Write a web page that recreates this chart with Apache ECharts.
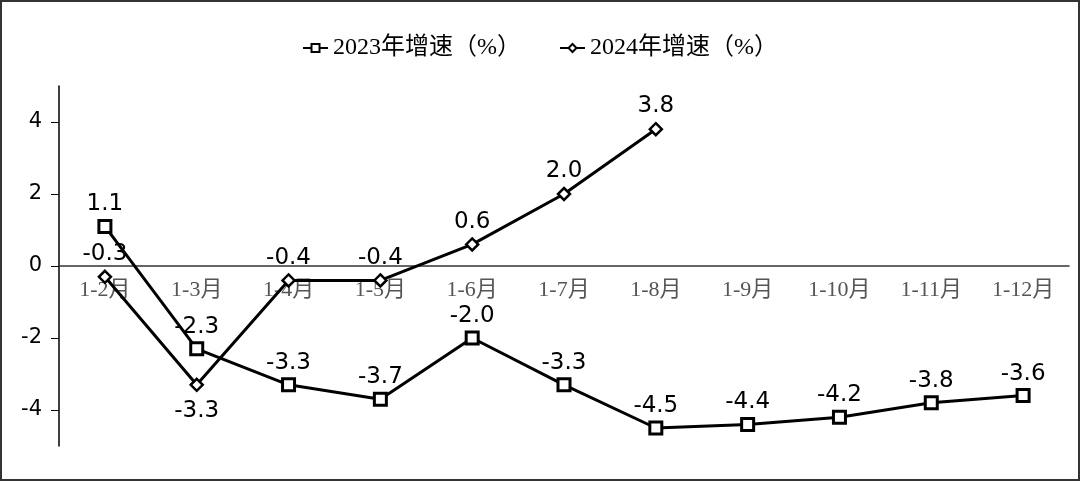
<!DOCTYPE html>
<html><head><meta charset="utf-8">
<script src="https://cdn.jsdelivr.net/npm/echarts@6/dist/echarts.min.js"></script>
<style>html,body{margin:0;padding:0;background:#fff}#c{width:1080px;height:481px}</style>
</head><body><div id="c"></div>
<script>
const categories = ['1-2月','1-3月','1-4月','1-5月','1-6月','1-7月','1-8月','1-9月','1-10月','1-11月','1-12月'];
const growth2023 = [1.1, -2.3, -3.3, -3.7, -2.0, -3.3, -4.5, -4.4, -4.2, -3.8, -3.6];
const growth2024 = [-0.3, -3.3, -0.4, -0.4, 0.6, 2.0, 3.8];
const yTicks = [-4, -2, 0, 2, 4];
const below2024 = [1];

const serif = '"Liberation Serif","Noto Sans CJK SC",serif';
const sans = '"DejaVu Sans",Verdana,sans-serif';
const chart = echarts.init(document.getElementById('c'));
chart.setOption({
  animation: false,
  graphic: [{type:'rect', shape:{x:1,y:1,width:1078,height:479}, style:{fill:'none', stroke:'#333', lineWidth:2}, silent:true, z:100}],
  legend: {
    top: 31, left: 'center', itemGap: 38, itemWidth: 25, itemHeight: 10,
    textStyle: {fontFamily: serif, fontSize: 24, color: '#000'},
    data: ['2023年增速（%）','2024年增速（%）']
  },
  grid: {left: 59, right: 11, top: 86, bottom: 35},
  xAxis: {
    type: 'category', data: categories,
    axisLine: {onZero: true, lineStyle: {color: '#333', width: 1.5}},
    axisTick: {show: false},
    axisLabel: {fontFamily: serif, fontSize: 22, color: '#555', margin: -167}
  },
  yAxis: {
    type: 'value', min: -5, max: 5, interval: 1,
    splitLine: {show: false},
    axisLine: {show: true, lineStyle: {color: '#000', width: 1.5}},
    axisTick: {show: true, length: 8, customValues: yTicks, lineStyle: {color: '#000'}},
    axisLabel: {customValues: yTicks, fontFamily: sans, fontSize: 21, color: '#000', margin: 17}
  },
  series: [
    {
      name: '2023年增速（%）', type: 'line', data: growth2023,
      symbol: 'rect', symbolSize: 12,
      lineStyle: {color: '#000', width: 3},
      itemStyle: {color: '#fff', borderColor: '#000', borderWidth: 3},
      label: {show: true, position: 'top', distance: 3, fontFamily: sans, fontSize: 23, color: '#000',
        formatter: p => p.value.toFixed(1)}
    },
    {
      name: '2024年增速（%）', type: 'line',
      data: growth2024.map((v, i) => below2024.includes(i)
        ? {value: v, label: {position: 'bottom', distance: 7}} : v),
      symbol: 'diamond', symbolSize: 12,
      lineStyle: {color: '#000', width: 3},
      itemStyle: {color: '#fff', borderColor: '#000', borderWidth: 2.5},
      label: {show: true, position: 'top', distance: 4, fontFamily: sans, fontSize: 23, color: '#000',
        formatter: p => Number(p.value).toFixed(1)}
    }
  ]
});
</script></body></html>
